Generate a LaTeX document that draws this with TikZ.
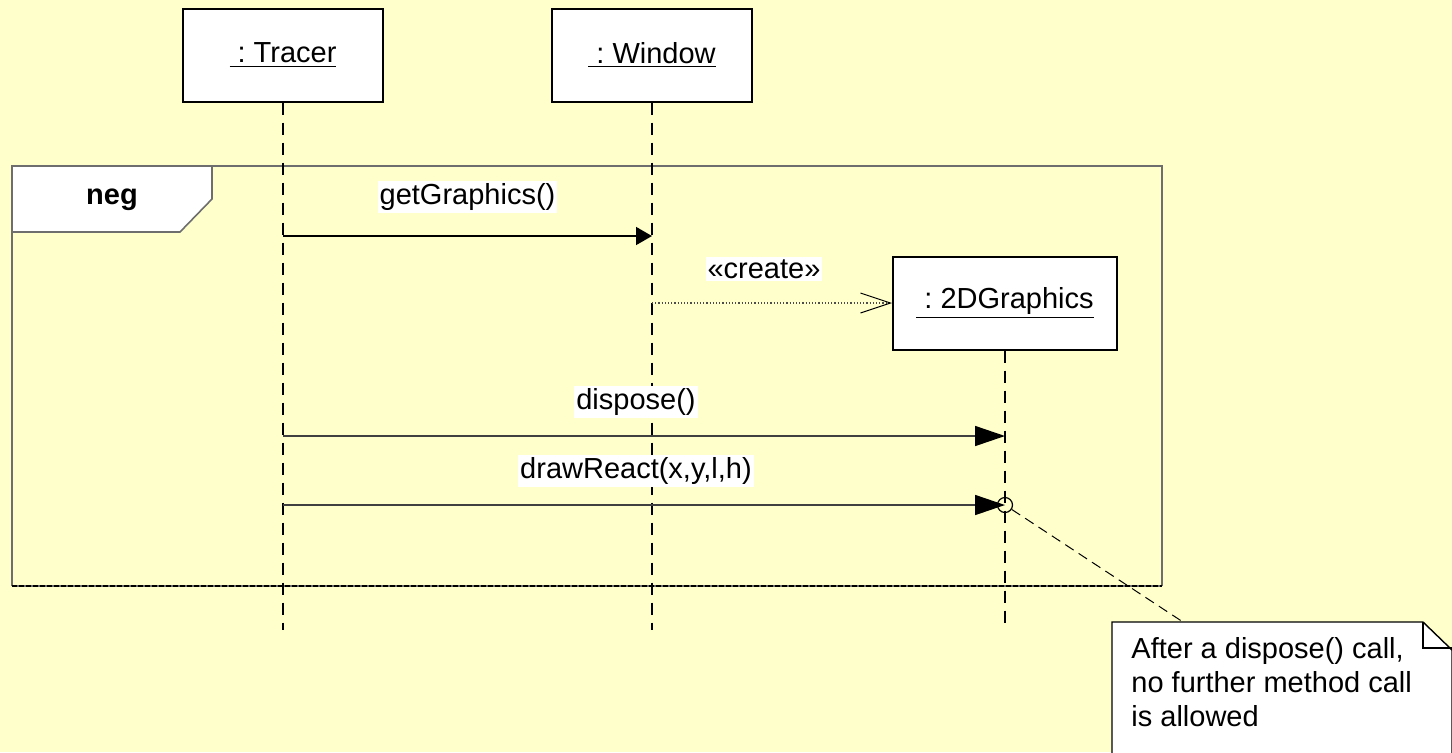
\documentclass[tikz,border=0pt]{standalone}
\usepackage{fontspec}
\setmainfont{Liberation Sans}
\usetikzlibrary{arrows.meta}

\definecolor{paperyellow}{HTML}{FFFFCC}
\definecolor{framegrey}{HTML}{6E6E6E}

\tikzset{
  lifebox/.style={draw=black, line width=1pt, fill=white, minimum width=100pt,
    minimum height=46.5pt, inner sep=0pt, font=\fontsize{14.5}{17}\selectfont},
  lifeline/.style={draw=black, line width=0.8pt, dash pattern=on 6pt off 4pt},
  msgline/.style={draw=black!75, line width=0.8pt, -{Triangle[length=15pt,width=10pt,black]}},
  msglabel/.style={fill=white, text=black, inner sep=1pt, font=\fontsize{14.5}{17}\selectfont},
}

\begin{document}
\begin{tikzpicture}[x=0.5pt, y=-0.5pt]
    % Drawing the background
    \fill[paperyellow] (0,0) rectangle (1452,752);
    \useasboundingbox (0,0) rectangle (1452,752);

    % Drawing the neg fragment
    \draw[framegrey, line width=0.8pt] (12,586) -- (12,166) -- (1162,166) -- (1162,586);
    \draw[framegrey, line width=1pt] (12,586) -- (1162,586);
    \draw[black, line width=1.2pt, dash pattern=on 2.5pt off 1pt] (12,586) -- (1162,586);
    \draw[framegrey, line width=0.8pt, fill=white] (12,166) -- (212,166) -- (212,199)
        -- (180,232) -- (12,232) -- cycle;
    \node[font=\fontsize{14.5}{17}\selectfont\bfseries] (neg) at (112,200) {neg};

    % Drawing the lifeline heads
    \node[lifebox] (tracer) at (283,55) {\underline{\ :\ Tracer}};
    \node[lifebox] (window) at (652,55) {\underline{\ :\ Window}};
    \node[lifebox, minimum width=112pt] (graphics) at (1005,303) {\underline{\ :\ 2DGraphics}};

    % Drawing the lifelines
    \coordinate (tracer-end) at (283,630);
    \coordinate (window-end) at (652,630);
    \coordinate (graphics-end) at (1005,630);
    \draw[lifeline] (tracer.south) -- (tracer-end);
    \draw[lifeline] (window.south) -- (window-end);
    \draw[lifeline] (graphics.south) -- (graphics-end);

    % Drawing the getGraphics() call
    \coordinate (tracer-get) at (283,236);
    \coordinate (window-get) at (652,236);
    \draw[msgline, -{Triangle[length=8pt,width=9pt,black]}, black] (tracer-get) -- (window-get)
        node[msglabel, midway, yshift=19.5pt] (get-label) {getGraphics()};

    % Drawing the create message
    \coordinate (window-create) at (652,303);
    \draw[black!70, line width=0.6pt, densely dotted,
        -{Straight Barb[length=15pt,width=10pt,line width=0.5pt,black]}] (window-create) -- (graphics.west)
        node[msglabel, midway, yshift=17pt, xshift=-4pt] (create-label) {«create»};

    % Drawing the dispose() call
    \coordinate (tracer-dispose) at (283,436);
    \coordinate (graphics-dispose) at (1005,436);
    \draw[msgline] (tracer-dispose) -- (graphics-dispose)
        node[msglabel, midway, yshift=17pt, xshift=-4pt] (dispose-label) {dispose()};

    % Drawing the drawReact call and the stop mark
    \coordinate (tracer-draw) at (283,505);
    \node[draw=black, circle, line width=0.6pt, minimum size=7.5pt, inner sep=0pt] (stop) at (1005,505) {};
    \draw[msgline] (tracer-draw) -- (stop.center)
        node[msglabel, midway, yshift=17pt, xshift=-4pt] (draw-label) {drawReact(x,y,l,h)};

    % Drawing the note
    \coordinate (note-top) at (1183,622);
    \draw[black, line width=0.5pt, dash pattern=on 5pt off 3pt] (stop) -- (note-top);
    \draw[black, line width=0.7pt, fill=white] (1112,770) -- (1112,622) -- (1423,622)
        -- (1452,650) -- (1452,770);
    \draw[black, line width=0.7pt] (1423,622) -- (1423,648) -- (1452,648);
    \node[anchor=north west, align=left, inner sep=0pt,
        font=\fontsize{14.5}{17}\selectfont] (note) at (1131,637)
        {After a dispose() call,\\no further method call\\is allowed};
\end{tikzpicture}
\end{document}
